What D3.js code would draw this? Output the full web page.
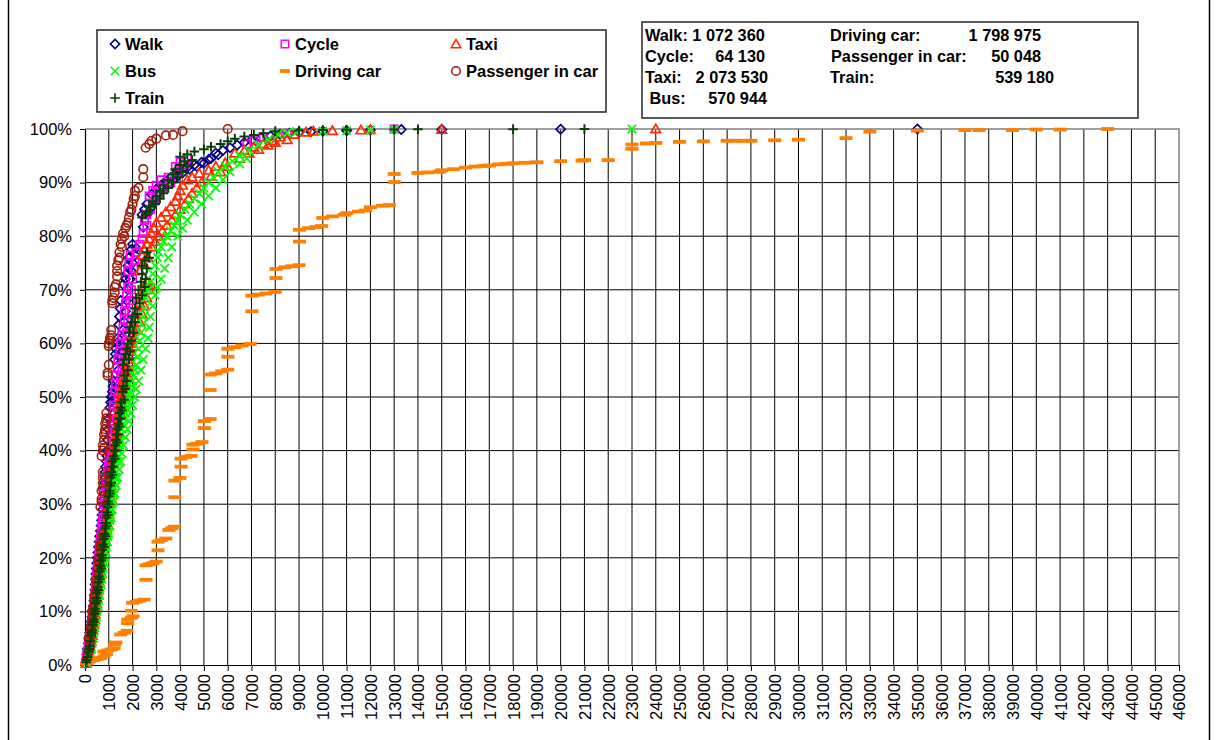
<!DOCTYPE html>
<html>
<head>
<meta charset="utf-8">
<script src="https://cdn.jsdelivr.net/npm/d3@7"></script>
<style>
  html, body { margin: 0; padding: 0; background: #fff; }
  svg { display: block; font-family: Arial, "Liberation Sans", sans-serif; }
</style>
</head>
<body>
<svg id="chart" width="1217" height="740"></svg>
<script>
// Cumulative share of trips (%) by trip distance, per transport mode: [distance, cumulative %]
const walkData = [
  [30,0.3],[60,1],[80,2],[100,3],[150,4],[180,5],[200,6],[230,7],[260,8],[300,9],[320,10],[350,11],[380,12],[400,13],
  [420,14],[430,15],[450,16],[460,17],[480,18],[500,19],[520,20],[550,21],[570,22],[600,23],[620,24],[650,25],[680,26],
  [700,27],[720,28],[740,29],[760,30],[780,31],[800,32],[820,33],[830,34],[850,35],[850,36],[870,37],[900,38],[920,39],
  [930,40],[950,42],[980,44],[1000,46],[1050,48],[1080,49],[1100,50],[1150,51],[1180,52],[1200,53],[1250,57],[1280,58],
  [1300,59],[1350,60],[1380,61],[1420,63.5],[1450,65],[1480,66.5],[1500,68],[1600,71],[1700,72],[1750,73],[1800,74.5],
  [1850,76],[1950,77.5],[2000,78.5],[2450,81.7],[2400,84],[2500,85],[2600,86],[2800,87.8],[3000,88.8],[3200,89.5],
  [3400,90.3],[3600,91],[3800,91.6],[4000,92.2],[4300,92.8],[4600,93.3],[4900,93.8],[5200,94.3],[5500,95.5],[5800,96],
  [6100,96.5],[6400,97],[6700,97.5],[7000,97.9],[7400,98.3],[7800,98.7],[8200,99],[8600,99.2],[9000,99.4],[9500,99.5],
  [10000,99.6],[11000,99.7],[12000,99.8],[13300,99.9],[15000,99.93],[20000,99.96],[35000,100],
  [120,2.5],[200,4.5],[280,7.5],[350,9.5],[420,12.5],[480,15.5],[530,17.5],[600,19.5],[650,21.5],[700,23.5],[760,25.5],
  [800,27.5],[850,29.5],[900,30.5],[1000,36.5],[1050,40],[1100,43],[1150,45],[1200,47],[1250,49.5],[1300,51.5],
  [1350,53],[1400,55],[1450,57.5],[1500,59.5],[1550,61],[1600,62.5],[1650,64],[1700,66],[1750,68],[1800,70],[1900,72],
  [1950,73.5],[2000,75],[2100,76.5],[2150,77.8],[2700,84.5],[2900,86.5],[3100,88],[3300,89],[3500,89.8],[3700,90.5],
  [3900,91.2],[4100,91.8],[4400,92.5],[4700,93],[5000,93.6],[5300,94.5],[5600,95.2]
];
const cycleData = [
  [30,0.5],[60,1.5],[100,2.5],[130,3.5],[160,4.5],[200,5.5],[230,6.5],[260,7.5],[300,8.5],[320,9.5],[350,10.5],[380,11.5],
  [400,12.5],[420,13.5],[440,14.5],[460,15.5],[480,16.5],[500,17.5],[530,18.5],[560,19.5],[580,20.5],[600,21.5],[620,22.5],
  [650,23.5],[680,24.5],[700,25.5],[720,26.5],[750,27.5],[800,30],[830,31],[850,32],[870,33],[900,34],[950,36],[980,37],
  [1000,38],[1030,39],[1050,40],[1100,42.5],[1130,44],[1150,45.5],[1180,47],[1200,48.5],[1250,51],[1280,52.5],[1300,54],
  [1350,55.5],[1380,57],[1450,58.5],[1500,60],[1550,61.5],[1600,63],[1650,64.5],[1650,66],[1700,67.5],[1750,69],[1800,70.5],
  [1800,73.5],[1850,75],[1900,76.5],[2300,78.5],[2400,79.5],[2500,83],[2600,84],[2700,87.5],[2850,88.5],[3000,89.5],
  [3200,90.5],[3500,91],[3800,93],[4000,93.8],[4300,94.5],[6800,97.2],[7100,97.8],[7500,98.5],[8500,99.2],[13000,100],
  [150,3],[250,6],[350,9],[450,12],[520,15],[600,18],[650,20],[720,23],[780,25],[850,28],[880,29],[950,31.5],[1000,33],
  [1050,35],[1100,37.5],[1150,39.5],[1200,41.5],[1250,43.5],[1300,46],[1350,48],[1400,50],[1450,52],[1500,53.5],
  [1550,55],[1600,56.5],[1650,58],[1700,60],[1750,62],[1800,64],[1850,66],[1900,68],[1950,70],[2000,72],[2050,74],
  [2100,75.5],[2150,77],[2450,80.5],[2600,82],[2750,85],[2900,86.5],[3100,88],[3300,89],[3600,90],[3900,92],[4200,93.2]
];
const taxiData = [
  [50,0.3],[100,1.2],[150,2.5],[200,3.5],[250,4.5],[300,5.5],[330,6.5],[360,7.5],[400,8.5],[420,9.5],[450,10.5],[480,11.5],
  [500,12.5],[530,13.5],[560,14.5],[600,15.5],[620,16.5],[650,17.5],[680,18.5],[700,19.5],[730,20.5],[760,21.5],[800,22.5],
  [830,23.5],[860,24.5],[900,25.5],[930,26.5],[950,27.5],[980,28.5],[1000,29.5],[1020,30.5],[1050,31.5],[1070,32.5],
  [1090,33.5],[1100,34.5],[1130,35.5],[1150,36.5],[1170,37.5],[1200,38.5],[1220,39.5],[1250,40.5],[1280,41.5],[1300,42.5],
  [1330,43.5],[1360,44.5],[1380,45.5],[1400,46.5],[1430,47.5],[1450,48.5],[1480,49.5],[1500,50.5],[1550,51.5],[1600,52.5],
  [1650,53.5],[1700,54.5],[1750,55.5],[1800,57],[1850,58.5],[1900,60],[1950,61.5],[2000,63],[2100,64.5],[2200,66],
  [2300,67.5],[2400,69],[2500,70.5],[2600,71.5],[2400,76.5],[2500,77.5],[2600,78.5],[2700,79.5],[2800,80.5],[2900,81.5],
  [3000,82.5],[3200,83.5],[3400,84.5],[3600,85.5],[3800,86.5],[3900,87.5],[4000,88.5],[4100,89.5],[4300,90.5],[4500,91],
  [4800,91.7],[5200,92.3],[5500,93],[5900,93.7],[6300,95.5],[6700,96],[7100,96.6],[7500,97.2],[7900,97.8],[8200,98.5],
  [8800,99],[9300,99.4],[9600,99.6],[10400,99.7],[11600,99.8],[12000,99.85],[15000,99.9],[24000,100],
  [80,0.8],[180,3],[280,5],[380,8],[470,11],[550,14],[640,17],[720,20],[800,23],[880,26],[960,29],[1040,31],[1100,33],
  [1160,36],[1230,39],[1300,41],[1350,43],[1420,45],[1480,47],[1550,49],[1650,51],[1700,52.5],[1800,54],[1850,55],
  [1950,56.5],[2000,58],[2050,59.5],[2100,61],[2200,62.5],[2300,64],[2400,65.5],[2500,67],[2600,68.5],[2700,70],
  [2750,71],[2300,73.5],[2450,75],[2650,76],[2800,78],[2950,79],[3100,80],[3250,81],[3450,82],[3650,83],[3800,84],
  [4000,85],[4200,86],[4350,87],[4500,88],[4700,89],[4900,90],[5300,91.2],[5700,92],[6000,93],[6500,94.5],[6900,95.5],
  [7300,96.2],[7700,97],[8000,97.5],[8500,98]
];
const busData = [
  [100,0.3],[150,1],[200,2],[250,3],[300,4],[330,5],[360,6],[400,7],[430,8],[470,9],[500,10],[530,11],[560,12],[600,13],
  [630,14],[660,15],[700,16],[730,17],[760,18],[800,19],[830,20],[860,21],[890,22],[920,23],[950,24],[980,25],[1010,26],
  [1040,27],[1070,28],[1100,29],[1130,30],[1160,31],[1190,32],[1220,33],[1250,34],[1280,35],[1310,36],[1340,37],[1370,38],
  [1400,39],[1430,40],[1460,41],[1490,42],[1520,43],[1550,44],[1600,45],[1650,46],[1700,47],[1750,48],[1800,49],[1850,50],
  [1900,51],[1950,52],[2000,53],[2050,54],[2100,55],[2150,56],[2200,57.5],[2250,59],[2300,60.5],[2350,62],[2400,63.5],
  [2450,65],[2500,66.5],[2550,68.5],[2650,70],[2750,71.5],[2850,73],[2950,74.5],[3050,76],[3100,77],[3200,78],[3300,79],
  [3450,80],[3600,81],[3750,82],[3900,83],[4000,84],[4200,85],[4400,86],[4600,87],[4800,88],[5000,89],[5200,90],[5400,91],
  [5600,92],[5900,93],[6200,94],[6500,95],[6900,96],[7300,97],[7700,98],[8100,99],[8500,99.3],[8900,99.5],[10000,99.6],
  [11000,99.7],[12000,99.8],[13000,99.9],[23000,100],
  [200,1],[280,3],[350,5],[420,7],[480,9],[550,11],[620,13],[680,15],[750,17],[820,19],[880,21],[950,23],[1000,24.5],
  [1050,26],[1100,27.5],[1150,29],[1200,30.5],[1260,32],[1320,33.5],[1380,35],[1440,36.5],[1500,38],[1560,39.5],
  [1620,41],[1700,42.5],[1780,44],[1850,45.5],[1920,47],[2000,48.5],[2080,50],[2150,51.5],[2250,53],[2350,55],
  [2450,57],[2550,59],[2650,61],[2700,63],[2750,65],[2850,67],[2950,69],[3050,70.5],[3200,72],[3350,74],[3500,76],
  [3650,78],[3900,80],[4100,81.5],[4300,83],[4600,84.5],[4900,86],[5200,87.5],[5500,89],[5800,90.5],[6100,92],
  [6500,93.5],[6800,94.5]
];
const drivingCarData = [
  [60,0.3],[200,0.7],[350,0.9],[500,1.1],[650,1.3],[800,1.6],[900,2.0],[800,2.5],[950,2.7],[1100,2.9],[1220,3.1],
  [1250,3.8],[1300,4.2],[1500,5.7],[1650,6.0],[1770,6.4],[1790,7.8],[1800,8.5],[1950,8.8],[2020,9.1],[1950,10.1],
  [2000,11.6],[2150,11.8],[2300,12.0],[2480,12.2],[2565,15.9],[2570,18.6],[2700,18.8],[2850,19.0],[2990,19.3],
  [3070,21.4],[3070,23.0],[3200,23.3],[3400,23.6],[3530,25.2],[3650,25.5],[3750,25.8],[3780,31.3],[3780,34.4],
  [3990,34.9],[4040,37.0],[4040,38.5],[4250,38.8],[4460,39.0],[4540,40.2],[4540,41.1],[4700,41.3],[4920,41.6],
  [5020,44.2],[5020,45.5],[5260,45.9],[5260,51.3],[5260,54.2],[5500,54.4],[5750,54.8],[6000,55.1],[6010,57.5],
  [6010,59.0],[6300,59.3],[6600,59.6],[6940,59.9],[7020,66.0],[7020,68.9],[7300,69.1],[7600,69.3],[8000,69.6],
  [8030,72.2],[8030,73.9],[8400,74.2],[8700,74.4],[9000,74.6],[9020,79.0],[9020,81.2],[9400,81.5],[9700,81.7],
  [9950,81.9],[10000,83.4],[10400,83.7],[10900,84.0],[11000,84.3],[11500,84.6],[11800,84.8],[12000,85.4],[12500,85.7],
  [12800,85.8],[13000,90.1],[13000,91.6],[14000,91.8],[14400,91.9],[14900,92.0],[15000,92.3],[15500,92.5],[16000,92.8],
  [16400,93.0],[16800,93.1],[17000,93.2],[17400,93.4],[17700,93.5],[18000,93.6],[18500,93.7],[19000,93.8],[20000,94.0],
  [20900,94.1],[21000,94.2],[22000,94.2],[23000,96.3],[23000,97.1],[23600,97.3],[24000,97.4],[25000,97.6],[26000,97.7],
  [27000,97.8],[27300,97.8],[27700,97.8],[28000,97.8],[29000,97.9],[30000,98.0],[32000,98.3],[33000,99.5],[35000,99.7],
  [37000,99.8],[37600,99.8],[39000,99.8],[40000,99.9],[41000,99.9],[43000,100]
];
const passengerData = [
  [100,1.5],[150,2.5],[200,3.5],[200,4.5],[250,5.5],[250,6.5],[300,7.5],[300,8.5],[350,9.5],[350,10.5],[400,11.5],
  [400,12.5],[450,13.5],[500,14.5],[500,15.5],[550,17],[550,18],[600,19],[600,20],[650,21.5],[700,22.5],[700,23.5],
  [750,24.5],[650,29.5],[700,31],[700,32.5],[750,34],[750,35],[700,39],[750,40],[750,41],[800,42],[800,43],[850,44],
  [850,45],[900,46],[900,47],[950,54],[950,54.5],[1000,56],[1000,59.5],[1050,60.5],[1100,61.5],[1100,62.5],[1150,67.5],
  [1200,68.5],[1250,69.5],[1300,71],[1350,72.5],[1350,74.5],[1400,75.5],[1450,77],[1500,78.5],[1550,79.5],[1600,80.5],
  [1700,81.5],[1800,82.5],[1850,83.5],[1900,84.5],[2000,86],[2050,87],[2100,87.5],[2250,89],[2450,91],[2450,92.5],
  [2550,96.5],[2700,97.2],[2800,97.8],[3000,98.2],[3400,98.8],[3700,98.9],[4100,99.6],[6000,100],
  [150,5],[250,7],[300,10],[400,13],[450,16],[550,19.5],[650,22.5],[700,30.5],[750,33],[750,36],[800,40.5],[850,43.5],
  [900,45.5],[1000,60],[1050,61],[1150,68],[1250,70.5],[1350,73.5],[1450,76],[1550,78],[1650,80],[1750,82],[1950,85],
  [2100,88.5]
];
const trainData = [
  [50,0.5],[100,1.5],[150,2.5],[200,3.5],[230,4.5],[260,5.5],[300,6.5],[330,7.5],[360,8.5],[400,9.5],[420,10.5],
  [450,11.5],[480,12.5],[500,13.5],[530,14.5],[560,15.5],[590,16.5],[620,17.5],[650,18.5],[680,19.5],[700,20.5],
  [730,21.5],[760,22.5],[790,23.5],[820,24.5],[850,25.5],[880,26.5],[900,27.5],[930,28.5],[950,29.5],[970,30.5],
  [1000,31.5],[1030,32.5],[1050,33.5],[1080,35],[1100,36],[1130,37],[1150,38],[1200,39],[1230,40],[1260,41],[1300,42],
  [1330,43],[1360,44],[1400,45],[1430,46],[1460,47],[1500,48],[1530,49],[1580,51],[1620,52],[1650,54],[1600,56],
  [1650,57],[1700,58],[1750,59],[1800,60],[1850,62],[1900,63],[1950,64],[2000,65],[2100,66.5],[2150,68.5],[2250,70],
  [2350,71.5],[2400,73],[2400,74.5],[2500,75.5],[2600,77],[2400,83.5],[2600,84.5],[2700,85.5],[2850,86.5],[3000,87.5],
  [3150,88.5],[3300,89.5],[3500,90.5],[3700,91.5],[3800,92.5],[4000,93.3],[4200,94],[4000,94.8],[4300,95.3],[4600,95.8],
  [5000,96.2],[5300,96.7],[5700,97.2],[6000,97.7],[6300,98.2],[6700,98.6],[7100,98.9],[7500,99.2],[8000,99.6],
  [9000,99.7],[10000,99.8],[11000,99.85],[13000,99.9],[14000,99.95],[18000,99.97],[21000,100],
  [80,1],[180,3],[280,6],[350,8],[430,10],[500,12],[560,14],[620,16],[680,18],[740,20],[800,22],[850,24],[900,26],
  [960,28],[1000,30],[1050,32],[1100,34],[1150,35.5],[1200,37],[1250,38.5],[1300,40],[1350,41.5],[1400,43],[1450,44.5],
  [1500,46],[1550,47.5],[1650,49.5],[1700,51.5],[1750,53],[1800,55],[1850,57],[1900,58.5],[1950,60.5],[2050,62],
  [2100,64],[2200,65.5],[2300,67.5],[2400,69],[2500,70.5],[2550,72],[2600,74],[2700,76],[2550,84],[2750,85],[2950,86],
  [3150,87],[3300,88],[3500,89],[3700,90],[3900,91],[4100,92],[4300,93],[4500,94.2]
];

// Axis ticks
const xTickValues = d3.range(0, 46001, 1000);
const yTickValues = d3.range(0, 101, 10);

// Legend entries (in drawing order) and survey totals
const seriesNames = ["Walk", "Cycle", "Taxi", "Bus", "Driving car", "Passenger in car", "Train"];
const totalsLeftLabels = ["Walk: 1 072 360", "Cycle:", "Taxi:", " Bus:"];
const totalsLeftValues = ["", "64 130", "2 073 530", "570 944"];
const totalsRightLabels = ["Driving car:", "Passenger in car:", "Train:"];
const totalsRightValues = ["1 798 975", "50 048", "539 180"];

const W = 1217, H = 740;
const svg = d3.select("#chart");
const x = d3.scaleLinear().domain([0, 46000]).range([85, 1179]);
const y = d3.scaleLinear().domain([0, 100]).range([665, 129]);

// Marker shapes
const shapes = {
  diamond: g => g.append("path").attr("d", "M0,-4.6L4.6,0L0,4.6L-4.6,0Z").attr("fill", "none"),
  square: g => g.append("path").attr("d", "M-3.7,-3.7H3.7V3.7H-3.7Z").attr("fill", "none"),
  triangle: g => g.append("path").attr("d", "M0,-4.7L4.8,3.7L-4.8,3.7Z").attr("fill", "none"),
  cross: g => g.append("path").attr("d", "M-4.2,-4.2L4.2,4.2M-4.2,4.2L4.2,-4.2").attr("fill", "none"),
  dash: g => g.append("rect").attr("x", -6.5).attr("y", -1.9).attr("width", 13).attr("height", 3.8),
  circle: g => g.append("circle").attr("r", 4.3).attr("fill", "none"),
  plus: g => g.append("path").attr("d", "M-4.8,0H4.8M0,-4.8V4.8").attr("fill", "none")
};

const series = [
  { name: seriesNames[0], data: walkData, shape: "diamond", color: "#000080", sw: 1.7 },
  { name: seriesNames[1], data: cycleData, shape: "square", color: "#ff00ff", sw: 1.7 },
  { name: seriesNames[2], data: taxiData, shape: "triangle", color: "#ff2a00", sw: 1.7 },
  { name: seriesNames[3], data: busData, shape: "cross", color: "#00ff00", sw: 1.8 },
  { name: seriesNames[4], data: drivingCarData, shape: "dash", color: "#ff8000", sw: 0 },
  { name: seriesNames[5], data: passengerData, shape: "circle", color: "#a01e0a", sw: 1.6 },
  { name: seriesNames[6], data: trainData, shape: "plus", color: "#064006", sw: 2 }
];

// Chart frame
svg.append("rect").attr("width", W).attr("height", H).attr("fill", "#fff");
svg.append("line").attr("x1", 8.5).attr("x2", 8.5).attr("y1", 0).attr("y2", H).attr("stroke", "#000").attr("stroke-width", 1.5);
svg.append("line").attr("x1", 1209.5).attr("x2", 1209.5).attr("y1", 0).attr("y2", H).attr("stroke", "#000").attr("stroke-width", 1.5);

// Gridlines
const grid = svg.append("g");
grid.selectAll("line.v").data(xTickValues.filter(d => d > 0 && d < 46000)).join("line")
  .attr("x1", d => x(d)).attr("x2", d => x(d)).attr("y1", y(100)).attr("y2", y(0))
  .attr("stroke", "#000").attr("stroke-width", 1);
grid.selectAll("line.h").data(yTickValues.filter(d => d > 0 && d < 100)).join("line")
  .attr("x1", x(0)).attr("x2", x(46000)).attr("y1", d => y(d)).attr("y2", d => y(d))
  .attr("stroke", "#000").attr("stroke-width", 1);
// Plot area border (top/right)
svg.append("path").attr("d", `M${x(0)},${y(100)}H${x(46000)}V${y(0)}`)
  .attr("fill", "none").attr("stroke", "#808080").attr("stroke-width", 1.5);

// Axes
const xAxis = svg.append("g").attr("transform", `translate(0,${y(0)})`)
  .call(d3.axisBottom(x).tickValues(xTickValues).tickSize(6).tickSizeOuter(0).tickFormat(d3.format("d")));
xAxis.selectAll("text")
  .attr("transform", "rotate(-90)").attr("x", -9).attr("y", 0).attr("dy", "0.36em")
  .style("text-anchor", "end").style("font-size", "16.5px").attr("fill", "#000");
const yAxis = svg.append("g").attr("transform", `translate(${x(0)},0)`)
  .call(d3.axisLeft(y).tickValues(yTickValues).tickSize(5).tickSizeOuter(0).tickPadding(8).tickFormat(d => d + "%"));
yAxis.selectAll("text").style("font-size", "16.5px").attr("fill", "#000");
svg.selectAll(".domain").attr("stroke", "#000").attr("stroke-width", 1.2);
svg.selectAll(".tick line").attr("stroke", "#000");

// Data markers
const plot = svg.append("g");
series.forEach(s => {
  const g = plot.append("g");
  g.selectAll("g").data(s.data).join("g")
    .attr("transform", d => `translate(${x(d[0])},${y(d[1])})`)
    .each(function () {
      const m = shapes[s.shape](d3.select(this));
      if (s.shape === "dash") m.attr("fill", s.color);
      else m.attr("stroke", s.color).attr("stroke-width", s.sw);
    });
});

// Legend
const legend = svg.append("g");
legend.append("rect").attr("x", 97).attr("y", 30).attr("width", 509).attr("height", 82)
  .attr("fill", "#fff").attr("stroke", "#333").attr("stroke-width", 1.6);
const legendPos = [[115, 44], [285, 44], [456, 44], [115, 71], [285, 71], [456, 71], [115, 98]];
series.forEach((s, i) => {
  const [lx, ly] = legendPos[i];
  const mg = legend.append("g").attr("transform", `translate(${lx},${ly})`);
  const m = shapes[s.shape](mg);
  if (s.shape === "dash") m.attr("fill", s.color).attr("x", -5).attr("width", 10);
  else m.attr("stroke", s.color).attr("stroke-width", Math.min(s.sw, 1.6));
  legend.append("text").attr("x", lx + 10).attr("y", ly).attr("dy", "0.36em")
    .style("font-size", "16.5px").style("font-weight", "bold").text(s.name);
});

// Totals box
const totals = svg.append("g");
totals.append("rect").attr("x", 642).attr("y", 22).attr("width", 496).attr("height", 96)
  .attr("fill", "#fff").attr("stroke", "#333").attr("stroke-width", 1.6);
const rowsY = [35.5, 56.5, 77.5, 98.5];
const leftLabelX = [645, 645, 645, 645];
const leftValueEnd = [765, 765, 768, 767];
totalsLeftLabels.forEach((t, i) => {
  totals.append("text").attr("x", leftLabelX[i]).attr("y", rowsY[i]).attr("dy", "0.36em")
    .attr("xml:space", "preserve")
    .style("font-size", "16.3px").style("font-weight", "bold").text(t);
  if (totalsLeftValues[i]) {
    totals.append("text").attr("x", leftValueEnd[i]).attr("y", rowsY[i]).attr("dy", "0.36em")
      .attr("text-anchor", "end").style("font-size", "16.3px").style("font-weight", "bold").text(totalsLeftValues[i]);
  }
});
const rightLabelX = [830, 831, 830];
const rightValueEnd = [1041, 1041, 1054];
totalsRightLabels.forEach((t, i) => {
  totals.append("text").attr("x", rightLabelX[i]).attr("y", rowsY[i]).attr("dy", "0.36em")
    .style("font-size", "16.3px").style("font-weight", "bold").text(t);
  totals.append("text").attr("x", rightValueEnd[i]).attr("y", rowsY[i]).attr("dy", "0.36em")
    .attr("text-anchor", "end").style("font-size", "16.3px").style("font-weight", "bold").text(totalsRightValues[i]);
});
</script>
</body>
</html>
